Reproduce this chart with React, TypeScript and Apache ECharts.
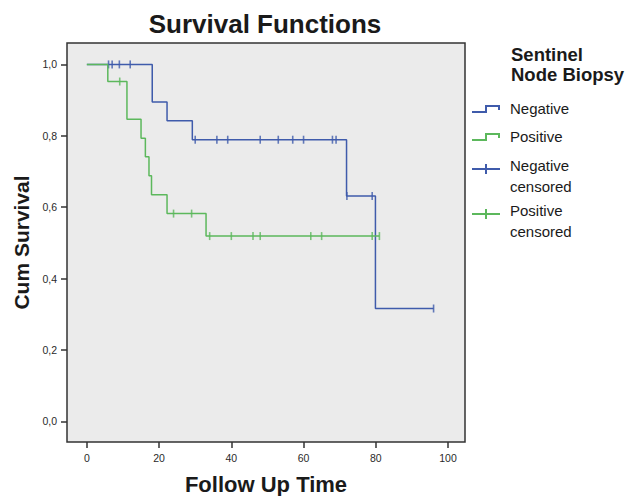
import React, { useEffect, useRef } from "react";
import * as echarts from "echarts";

const xTicks = [0, 20, 40, 60, 80, 100];
const yTicks = [0, 0.2, 0.4, 0.6, 0.8, 1.0];

const negativeCurve: [number, number][] = [
  [0, 1], [18.1, 0.895], [22.2, 0.842], [29.2, 0.789], [71.9, 0.631], [79.9, 0.316], [96, 0.316],
];
const positiveCurve: [number, number][] = [
  [0, 1], [5.8, 0.952], [11.1, 0.846], [15, 0.793], [16.2, 0.741], [17.2, 0.688], [17.9, 0.635],
  [22.2, 0.582], [33, 0.519], [81, 0.519],
];
const negativeCensored: [number, number][] = [
  [6, 1], [7, 1], [9, 1], [12, 1],
  [30, 0.789], [36, 0.789], [39, 0.789], [48, 0.789], [53, 0.789], [57, 0.789], [60, 0.789], [68, 0.789], [69, 0.789],
  [72, 0.631], [79, 0.631], [96, 0.316],
];
const positiveCensored: [number, number][] = [
  [9.1, 0.952], [24, 0.582], [29, 0.582],
  [34, 0.519], [40, 0.519], [46, 0.519], [48, 0.519], [62, 0.519], [65, 0.519], [79, 0.519], [81, 0.519],
];

const BLUE = "#3f5bab";
const GREEN = "#5cb85c";
const TEXT = "#1a1a1a";

export default function App() {
  const ref = useRef<HTMLDivElement>(null);
  useEffect(() => {
    if (!ref.current) return;
    const chart = echarts.init(ref.current, undefined, { renderer: "svg" });
    const font = "'Liberation Sans', Arial, sans-serif";
    chart.setOption({
      animation: false,
      backgroundColor: "#ffffff",
      title: {
        text: "Survival Functions",
        left: 260,
        textAlign: "center",
        top: 6,
        textStyle: { fontFamily: font, fontSize: 26, fontWeight: "bold", color: TEXT },
      },
      grid: {
        left: 67, top: 43, right: 173, bottom: 54,
        outerBoundsMode: "none", containLabel: false,
        show: true, backgroundColor: "#ebebeb", borderColor: "#333333", borderWidth: 1.5,
      },
      xAxis: {
        type: "value", min: -5.5, max: 104.7,
        name: "Follow Up Time", nameLocation: "middle", nameGap: 31,
        nameTextStyle: { fontFamily: font, fontSize: 22, fontWeight: "bold", color: TEXT },
        axisLine: { show: false, onZero: false },
        axisTick: { show: true, customValues: xTicks, length: 6, lineStyle: { color: "#333", width: 1.5 } },
        axisLabel: { customValues: xTicks, fontFamily: font, fontSize: 10.5, color: "#2a2a2a", margin: 10 },
        splitLine: { show: false },
      },
      yAxis: {
        type: "value", min: -0.058, max: 1.06,
        name: "Cum Survival", nameLocation: "middle", nameGap: 34,
        nameTextStyle: { fontFamily: font, fontSize: 21, fontWeight: "bold", color: TEXT },
        axisLine: { show: false, onZero: false },
        axisTick: { show: true, customValues: yTicks, length: 6, lineStyle: { color: "#333", width: 1.5 } },
        axisLabel: {
          customValues: yTicks, fontFamily: font, fontSize: 10.5, color: "#2a2a2a", margin: 10,
          formatter: (v: number) => v.toFixed(1).replace(".", ","),
        },
        splitLine: { show: false },
      },
      series: [
        {
          name: "Negative", type: "line", step: "end", data: negativeCurve, showSymbol: false,
          lineStyle: { color: BLUE, width: 1.5 }, z: 2,
        },
        {
          name: "Negative censored", type: "scatter", data: negativeCensored, symbol: "rect",
          symbolSize: [1.6, 8], itemStyle: { color: BLUE }, z: 3,
        },
        {
          name: "Positive", type: "line", step: "end", data: positiveCurve, showSymbol: false,
          lineStyle: { color: GREEN, width: 1.5 }, z: 4,
        },
        {
          name: "Positive censored", type: "scatter", data: positiveCensored, symbol: "rect",
          symbolSize: [1.6, 8], itemStyle: { color: GREEN }, z: 5,
        },
      ],
      graphic: [
        { type: "text", x: 511, y: 54, style: { text: "Sentinel", font: `bold 18.5px ${font}`, fill: TEXT, verticalAlign: "middle" } },
        { type: "text", x: 511, y: 74, style: { text: "Node Biopsy", font: `bold 18.5px ${font}`, fill: TEXT, verticalAlign: "middle" } },
        { type: "polyline", shape: { points: [[472, 112], [486, 112], [486, 106], [499, 106], [499, 110]] }, style: { stroke: BLUE, lineWidth: 2, fill: null } },
        { type: "text", x: 510, y: 108, style: { text: "Negative", font: `15px ${font}`, fill: TEXT, verticalAlign: "middle" } },
        { type: "polyline", shape: { points: [[472, 140], [486, 140], [486, 134], [499, 134], [499, 138]] }, style: { stroke: GREEN, lineWidth: 2, fill: null } },
        { type: "text", x: 510, y: 136, style: { text: "Positive", font: `15px ${font}`, fill: TEXT, verticalAlign: "middle" } },
        { type: "line", shape: { x1: 472, y1: 169, x2: 500, y2: 169 }, style: { stroke: BLUE, lineWidth: 2 } },
        { type: "line", shape: { x1: 486, y1: 164, x2: 486, y2: 174 }, style: { stroke: BLUE, lineWidth: 2 } },
        { type: "text", x: 510, y: 165, style: { text: "Negative", font: `15px ${font}`, fill: TEXT, verticalAlign: "middle" } },
        { type: "text", x: 510, y: 186, style: { text: "censored", font: `15px ${font}`, fill: TEXT, verticalAlign: "middle" } },
        { type: "line", shape: { x1: 472, y1: 214, x2: 500, y2: 214 }, style: { stroke: GREEN, lineWidth: 2 } },
        { type: "line", shape: { x1: 486, y1: 209, x2: 486, y2: 219 }, style: { stroke: GREEN, lineWidth: 2 } },
        { type: "text", x: 510, y: 210, style: { text: "Positive", font: `15px ${font}`, fill: TEXT, verticalAlign: "middle" } },
        { type: "text", x: 510, y: 231, style: { text: "censored", font: `15px ${font}`, fill: TEXT, verticalAlign: "middle" } },
      ],
    });
    return () => chart.dispose();
  }, []);
  return <div ref={ref} style={{ position: "absolute", left: 0, top: 0, width: 638, height: 496 }} />;
}
